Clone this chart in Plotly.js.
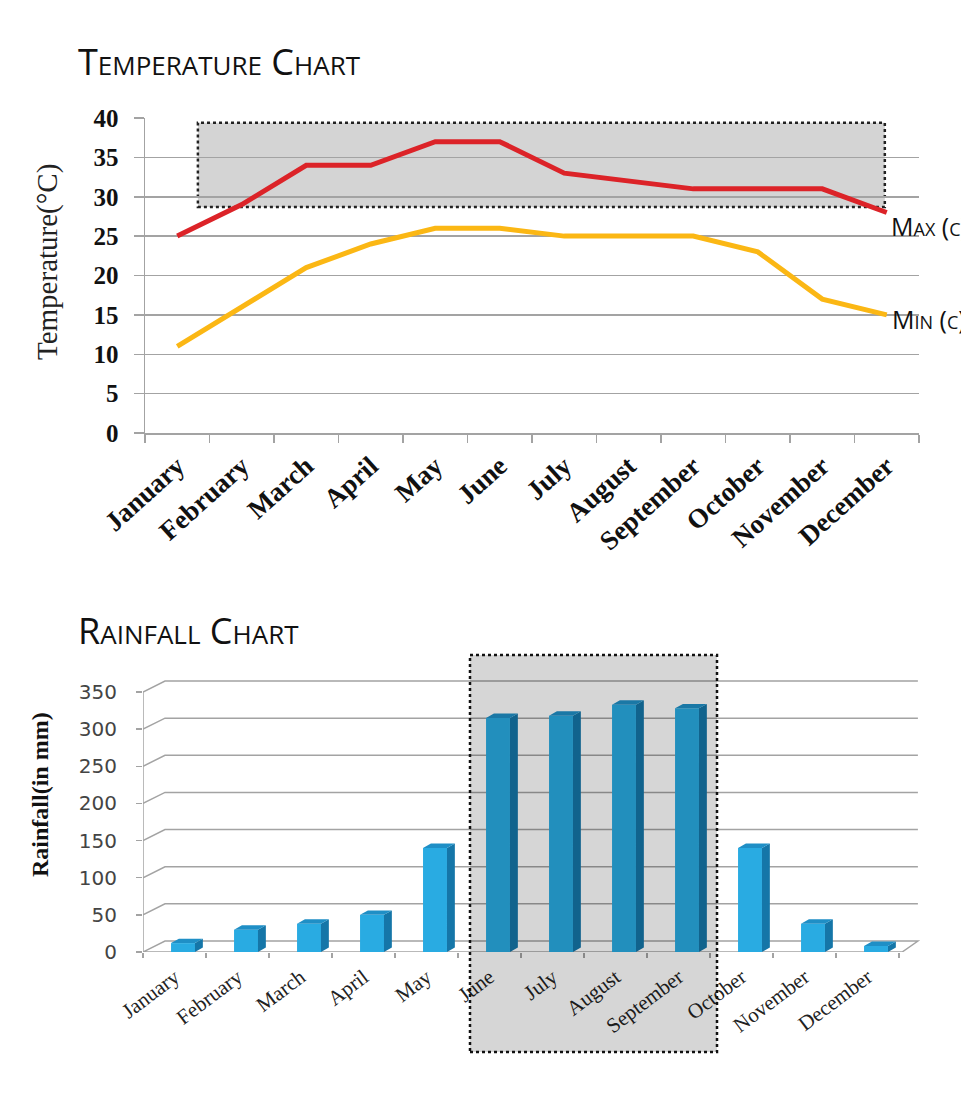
<!DOCTYPE html>
<html>
<head>
<meta charset="utf-8">
<script src="https://cdn.plot.ly/plotly-3.0.1.min.js"></script>
<style>html,body{margin:0;padding:0;background:#fff;overflow:hidden}#chart{width:961px;height:1100px}</style>
</head>
<body>
<div id="chart"></div>
<script>
// ---- data ----
const months = ["January","February","March","April","May","June","July","August","September","October","November","December"];
const tempMax = [25, 29, 34, 34, 37, 37, 33, 32, 31, 31, 31, 28];
const tempMin = [11, 16, 21, 24, 26, 26, 25, 25, 25, 23, 17, 15];
const rainfall = [12, 30, 38, 50, 140, 315, 318, 333, 328, 140, 38, 8];
const tempTicks = [0, 5, 10, 15, 20, 25, 30, 35, 40];
const rainTicks = [0, 50, 100, 150, 200, 250, 300, 350];

// ---- helpers (pixel -> paper) ----
const W = 961, H = 1100;
const X = px => px / W;
const Y = py => 1 - py / H;

const idx = months.map((m, i) => i);
const grid = '#a3a3a3';

// 3D faces of the rainfall columns
const bw = 0.38, boff = -0.055, ddx = 0.125, ddy = 6;
const sideX = [], sideY = [], topX = [], topY = [];
rainfall.forEach((v, i) => {
  const xl = i + boff, xr = xl + bw;
  sideX.push(xr, xr, xr + ddx, xr + ddx, xr, null);
  sideY.push(0, v, v + ddy, ddy, 0, null);
  topX.push(xl, xr, xr + ddx, xl + ddx, xl, null);
  topY.push(v, v, v + ddy, v + ddy, v, null);
});

const traces = [
  {x: months, y: tempMin, type: 'scatter', mode: 'lines', line: {color: '#fbb714', width: 5}, xaxis: 'x', yaxis: 'y', hoverinfo: 'skip'},
  {x: months, y: tempMax, type: 'scatter', mode: 'lines', line: {color: '#dc2328', width: 5}, xaxis: 'x', yaxis: 'y', hoverinfo: 'skip'},
  {x: idx, y: rainfall, type: 'bar', width: bw, offset: boff, marker: {color: '#29abe2', line: {width: 0}}, xaxis: 'x2', yaxis: 'y2', hoverinfo: 'skip'},
  {x: sideX, y: sideY, type: 'scatter', mode: 'lines', fill: 'toself', fillcolor: '#1576a8', line: {width: 0, color: 'rgba(0,0,0,0)'}, xaxis: 'x2', yaxis: 'y2', hoverinfo: 'skip'},
  {x: topX, y: topY, type: 'scatter', mode: 'lines', fill: 'toself', fillcolor: '#1f8fc6', line: {width: 0, color: 'rgba(0,0,0,0)'}, xaxis: 'x2', yaxis: 'y2', hoverinfo: 'skip'}
];

// rainfall axis geometry
const rTop = 372, pxPerUnit = 260 / 350;
const dxw = 22 / 63, dyw = 11 / pxPerUnit, xBackEnd = 11.8;

const shapes = [
  {type: 'rect', xref: 'x', yref: 'y', x0: 0.32, x1: 10.97, y0: 28.7, y1: 39.4, layer: 'below',
   fillcolor: '#d4d4d4', line: {color: '#222', width: 2.5, dash: 'dot'}},
  {type: 'path', xref: 'x2', yref: 'y2', layer: 'below',
   path: `M -0.5,0 L ${-0.5 + dxw},${dyw} L ${xBackEnd},${dyw} L 11.55,0 Z`, line: {color: grid, width: 1.5}},
  {type: 'line', xref: 'x2', yref: 'y2', layer: 'below', x0: -0.5, x1: -0.5, y0: 0, y1: 350, line: {color: grid, width: 1.5}},
  {type: 'rect', xref: 'paper', yref: 'paper', x0: X(470), x1: X(717), y0: Y(1052), y1: Y(655), layer: 'above',
   fillcolor: 'rgba(0,0,0,0.16)', line: {color: '#111', width: 2.5, dash: 'dot'}}
];
rainTicks.filter(v => v > 0).forEach(v => {
  shapes.push({type: 'path', xref: 'x2', yref: 'y2', layer: 'below',
    path: `M -0.5,${v} L ${-0.5 + dxw},${v + dyw} L ${xBackEnd},${v + dyw}`, line: {color: grid, width: 1.5}});
});

const titleFont = {family: 'Open Sans', size: 36, color: '#111'};
const annotations = [
  {xref: 'paper', yref: 'paper', x: X(76), y: Y(88), xanchor: 'left', yanchor: 'bottom', showarrow: false,
   text: 'T<span style="font-size:26px">EMPERATURE</span> C<span style="font-size:26px">HART</span>', font: titleFont},
  {xref: 'paper', yref: 'paper', x: X(76), y: Y(657), xanchor: 'left', yanchor: 'bottom', showarrow: false,
   text: 'R<span style="font-size:26px">AINFALL</span> C<span style="font-size:26px">HART</span>', font: titleFont},
  {xref: 'paper', yref: 'paper', x: X(889), y: Y(226), xanchor: 'left', yanchor: 'middle', showarrow: false,
   text: 'M<span style="font-size:18px">AX</span> (<span style="font-size:18px">C</span>)', font: {family: 'Open Sans', size: 25, color: '#111'}},
  {xref: 'paper', yref: 'paper', x: X(890), y: Y(319), xanchor: 'left', yanchor: 'middle', showarrow: false,
   text: 'M<span style="font-size:18px">IN</span> (<span style="font-size:18px">C</span>)', font: {family: 'Open Sans', size: 25, color: '#111'}},
  {xref: 'paper', yref: 'paper', x: X(47), y: Y(262), xanchor: 'center', yanchor: 'middle', showarrow: false, textangle: -90,
   text: 'Temperature(°C)', font: {family: 'Liberation Serif', size: 29, color: '#222'}},
  {xref: 'paper', yref: 'paper', x: X(40), y: Y(795), xanchor: 'center', yanchor: 'middle', showarrow: false, textangle: -90,
   text: 'Rainfall(in mm)', font: {family: 'Liberation Serif', size: 24, color: '#111', weight: 'bold'}}
];

const layout = {
  width: W, height: H, margin: {l: 0, r: 0, t: 0, b: 0},
  paper_bgcolor: '#fff', plot_bgcolor: 'rgba(0,0,0,0)', showlegend: false,
  xaxis: {domain: [X(145), X(919)], anchor: 'y', type: 'category', range: [-0.5, 11.5], tickson: 'boundaries',
    ticks: 'outside', ticklen: 8, tickwidth: 1.5, tickcolor: grid, showline: true, linecolor: grid, linewidth: 1.5,
    showgrid: false, zeroline: false, tickangle: -42, ticklabelstandoff: 5,
    tickfont: {family: 'Liberation Serif', size: 27, color: '#111', weight: 'bold'}, fixedrange: true},
  yaxis: {domain: [Y(433), Y(118)], anchor: 'x', range: [0, 40], tickmode: 'array', tickvals: tempTicks,
    showgrid: true, gridcolor: grid, gridwidth: 1.5, ticks: 'outside', ticklen: 10, tickwidth: 1.5, tickcolor: grid,
    showline: true, linecolor: grid, linewidth: 1.5, zeroline: false, ticklabelstandoff: 10,
    tickfont: {family: 'Liberation Serif', size: 25, color: '#111', weight: 'bold'}, fixedrange: true},
  xaxis2: {domain: [X(143), X(143 + 12.35 * 63)], anchor: 'y2', range: [-0.5, 11.85], tickmode: 'array', tickvals: idx, ticktext: months,
    ticks: '', showgrid: false, zeroline: false, showline: false, tickangle: -37, ticklabelstandoff: 8,
    tickfont: {family: 'Liberation Serif', size: 21, color: '#222'},
    minor: {tickmode: 'linear', tick0: -0.5, dtick: 1, ticks: 'outside', ticklen: 5, tickwidth: 1.5, tickcolor: grid, showgrid: false},
    fixedrange: true},
  yaxis2: {domain: [Y(952), Y(952 - rTop * pxPerUnit)], anchor: 'x2', range: [0, rTop], tickmode: 'array', tickvals: rainTicks,
    showgrid: false, zeroline: false, showline: false, ticks: 'outside', ticklen: 6, tickwidth: 1.5, tickcolor: grid,
    ticklabelstandoff: 15, tickfont: {family: 'DejaVu Sans', size: 20, color: '#444'}, fixedrange: true},
  shapes: shapes, annotations: annotations
};

Plotly.newPlot('chart', traces, layout, {displayModeBar: false, staticPlot: true});
</script>
</body>
</html>
